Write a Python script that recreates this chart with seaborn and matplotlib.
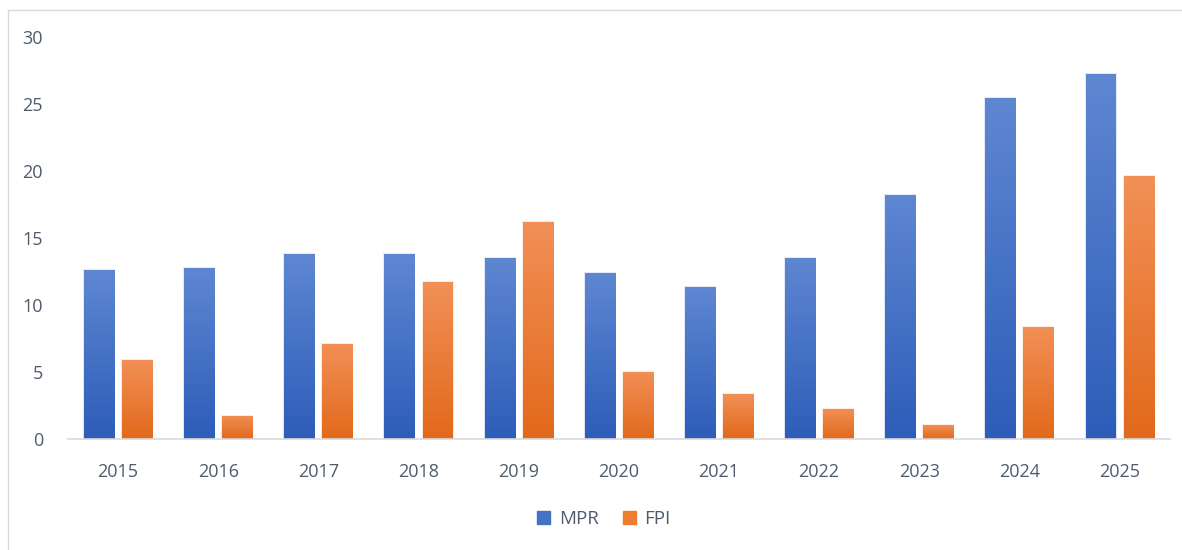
import matplotlib.pyplot as plt
import matplotlib.colors as mcolors
import numpy as np
import pandas as pd
import seaborn as sns
from matplotlib.lines import Line2D

years = ["2015", "2016", "2017", "2018", "2019", "2020", "2021", "2022", "2023", "2024", "2025"]
mpr = [12.7, 12.8, 13.9, 13.9, 13.6, 12.5, 11.4, 13.6, 18.3, 25.5, 27.3]
fpi = [6.0, 1.8, 7.2, 11.8, 16.3, 5.1, 3.4, 2.3, 1.1, 8.4, 19.7]
series = ["MPR", "FPI"]

# gradient ends per series: (top, bottom)
grad = {
    "MPR": ("#5F87D2", "#2D5DB9"),
    "FPI": ("#F29057", "#E2691B"),
}
solid = {"MPR": "#4472C4", "FPI": "#ED7D31"}
text_color = "#4F5B6C"

sns.set_theme(style="white")
plt.rcParams["font.family"] = ["Open Sans", "DejaVu Sans"]

df = pd.DataFrame({"year": years * 2,
                   "series": ["MPR"] * len(years) + ["FPI"] * len(years),
                   "value": mpr + fpi})

fig = plt.figure(figsize=(11.82, 5.5), dpi=100)
ax = fig.add_axes([0.0575, 0.2018, 0.932, 0.7309])

sns.barplot(data=df, x="year", y="value", hue="series", palette=solid,
            width=0.76, gap=0.16, ax=ax, legend=False)

# replace flat fills with vertical gradients
for i, container in enumerate(ax.containers):
    name = series[i]
    cmap = mcolors.LinearSegmentedColormap.from_list(name, [grad[name][1], grad[name][0]])
    for bar in container:
        x0, y0 = bar.get_x(), bar.get_y()
        w, h = bar.get_width(), bar.get_height()
        bar.set_facecolor("none")
        bar.set_edgecolor("#FFFFFF")
        bar.set_linewidth(0.6)
        g = np.linspace(0, 1, 256).reshape(-1, 1)
        im = ax.imshow(g, cmap=cmap, origin="lower", aspect="auto",
                       extent=(x0, x0 + w, y0, y0 + h), zorder=bar.get_zorder() - 0.1)
        im.set_clip_path(bar)
ax.set_xlim(-0.5, len(years) - 0.5)
ax.set_ylim(0, 30)

ax.set_yticks(range(0, 31, 5))
ax.set_xlabel("")
ax.set_ylabel("")
ax.tick_params(axis="both", length=0, labelsize=13, labelcolor=text_color)
ax.tick_params(axis="x", pad=17)
ax.tick_params(axis="y", pad=18)
for s in ["left", "right", "top"]:
    ax.spines[s].set_visible(False)
ax.spines["bottom"].set_color("#D9D9D9")
ax.spines["bottom"].set_linewidth(1.2)

handles = [plt.Rectangle((0, 0), 1, 1, color=solid[s]) for s in series]
fig.legend(handles, series, loc="center", bbox_to_anchor=(0.511, 0.056), ncol=2,
           frameon=False, fontsize=13.5, labelcolor=text_color,
           handlelength=0.7, handleheight=0.7, handletextpad=0.45, columnspacing=1.3)

# chart-area border (left and top edges)
fig.add_artist(Line2D([8 / 1182, 8 / 1182], [0, 1 - 10 / 550], transform=fig.transFigure,
                      color="#D9D9D9", lw=1))
fig.add_artist(Line2D([8 / 1182, 1], [1 - 10 / 550, 1 - 10 / 550], transform=fig.transFigure,
                      color="#D9D9D9", lw=1))

fig.savefig("out.png", dpi=100)
